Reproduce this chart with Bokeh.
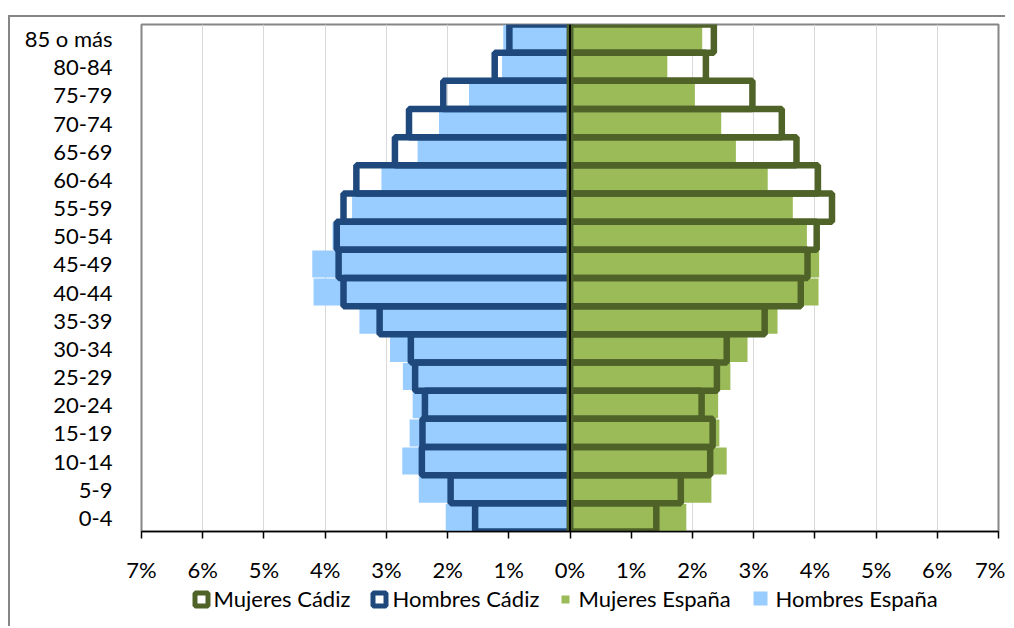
from bokeh.plotting import figure
from bokeh.layouts import column
from bokeh.models import ColumnDataSource, FactorRange, Range1d, FixedTicker, Span
from bokeh.core.properties import value
from bokeh.embed import file_html
from bokeh.resources import INLINE

# ---------------- data (bottom -> top) ----------------
ages = ["0-4", "5-9", "10-14", "15-19", "20-24", "25-29", "30-34", "35-39", "40-44",
        "45-49", "50-54", "55-59", "60-64", "65-69", "70-74", "75-79", "80-84", "85 o más"]
hombres_cadiz = [1.55, 1.95, 2.42, 2.41, 2.37, 2.53, 2.60, 3.11, 3.70,
                 3.78, 3.81, 3.70, 3.49, 2.86, 2.63, 2.07, 1.23, 0.99]
mujeres_cadiz = [1.41, 1.81, 2.29, 2.33, 2.15, 2.40, 2.56, 3.18, 3.77,
                 3.88, 4.03, 4.28, 4.05, 3.70, 3.46, 2.98, 2.22, 2.35]
hombres_espana = [2.03, 2.47, 2.74, 2.62, 2.57, 2.73, 2.94, 3.44, 4.19,
                  4.21, 3.88, 3.56, 3.08, 2.49, 2.14, 1.65, 1.11, 1.09]
mujeres_espana = [1.90, 2.31, 2.56, 2.44, 2.42, 2.62, 2.90, 3.39, 4.06,
                  4.07, 3.87, 3.64, 3.23, 2.71, 2.47, 2.04, 1.59, 2.16]
tick_values = [-7, -6, -5, -4, -3, -2, -1, 0, 1, 2, 3, 4, 5, 6, 7]
tick_labels = ["7%", "6%", "5%", "4%", "3%", "2%", "1%", "0%", "1%", "2%", "3%", "4%", "5%", "6%", "7%"]
series_names = ["Mujeres Cádiz", "Hombres Cádiz", "Mujeres España", "Hombres España"]

# ---------------- style ----------------
FONT = "Lato"
FS = "22px"
C_HC = "#1F497D"
C_MC = "#4F6228"
C_HE = "#99CCFF"
C_ME = "#9BBB59"
B_LEFT, FRAME_W, B_RIGHT = 131, 857, 7

source = ColumnDataSource(dict(
    age=ages,
    hc=[-v for v in hombres_cadiz],
    mc=mujeres_cadiz,
    he=[-v for v in hombres_espana],
    me=mujeres_espana,
))

p = figure(y_range=FactorRange(factors=ages), x_range=Range1d(-7, 7),
           frame_width=FRAME_W, frame_height=507,
           min_border_left=B_LEFT, min_border_right=B_RIGHT, min_border_top=7,
           min_border_bottom=55,
           output_backend="svg", toolbar_location=None,
           background_fill_color="white", border_fill_color="white",
           outline_line_color="#868686", outline_line_width=2)

# bars
p.hbar(y="age", left="he", right=0, height=0.96, fill_color=C_HE, line_color=None, source=source)
p.hbar(y="age", left=0, right="me", height=0.96, fill_color=C_ME, line_color=None, source=source)
p.hbar(y="age", left="hc", right=0, height=1.0, fill_color=None, line_color=C_HC,
       line_width=6.5, source=source)
p.hbar(y="age", left=0, right="mc", height=1.0, fill_color=None, line_color=C_MC,
       line_width=6.5, source=source)

p.add_layout(Span(location=0, dimension="height", line_color="black", line_width=2))

# axes
p.xaxis.ticker = FixedTicker(ticks=tick_values)
p.xaxis.major_label_overrides = {t: l for t, l in zip(tick_values, tick_labels)}
p.xaxis.axis_line_color = "black"
p.xaxis.axis_line_width = 1.5
p.xaxis.major_tick_line_color = "black"
p.xaxis.major_tick_line_width = 1.5
p.xaxis.major_tick_out = 7
p.xaxis.major_tick_in = 0
p.xaxis.minor_tick_line_color = None
p.xaxis.major_label_standoff = 17
p.xaxis.major_label_text_font = FONT
p.xaxis.major_label_text_font_size = FS
p.xaxis.major_label_text_color = "black"

p.yaxis.axis_line_color = None
p.yaxis.major_tick_line_color = None
p.yaxis.minor_tick_line_color = None
p.yaxis.major_tick_out = 0
p.yaxis.major_tick_in = 0
p.yaxis.major_label_standoff = 29
p.yaxis.major_label_text_font = FONT
p.yaxis.major_label_text_font_size = FS
p.yaxis.major_label_text_color = "black"

p.xgrid.ticker = FixedTicker(ticks=tick_values)
p.xgrid.grid_line_color = "#D9D9D9"
p.xgrid.grid_line_width = 1
p.ygrid.grid_line_color = None

# ---------------- legend strip (own small figure, canvas-pixel coordinates) ----------------
LEG_H = 40
leg = figure(frame_width=FRAME_W, frame_height=LEG_H,
             min_border_left=B_LEFT, min_border_right=B_RIGHT, min_border_top=0, min_border_bottom=0,
             x_range=Range1d(B_LEFT, B_LEFT + FRAME_W), y_range=Range1d(LEG_H, 0),
             x_axis_location=None, y_axis_location=None,
             output_backend="svg", toolbar_location=None, outline_line_color=None,
             background_fill_color="white", border_fill_color="white")
leg.grid.visible = False

# swatch layout: (marker centre x, centre y, size, fill, line colour, line width, text x)
swatches = [
    (191, 13, 13, "white", C_MC, 5, 203),
    (369, 13, 13, "white", C_HC, 5, 382),
    (555, 13, 8, C_ME, None, 1, 568),
    (750, 12, 14, C_HE, None, 1, 765),
]
for (cx, cy, sz, fc, lc, lw, tx), name in zip(swatches, series_names):
    leg.rect(x=[cx], y=[cy], width=sz, height=sz, width_units="screen", height_units="screen",
             fill_color=fc, line_color=lc, line_width=lw)
    leg.text(x=[tx], y=[12], text=[name], text_font=value(FONT), text_font_size=FS,
             text_color="black", text_baseline="middle", text_align="left")

layout = column(p, leg, spacing=0)
# outer chart frame: only its top and left edges fall inside the window
layout.styles = {"margin-left": "8px", "margin-top": "15px",
                 "border-left": "2px solid #868686", "border-top": "2px solid #868686"}

open("out.html", "w").write(file_html(layout, INLINE))
